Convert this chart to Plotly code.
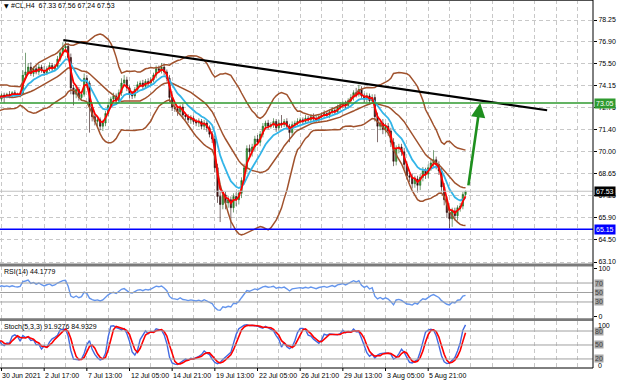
import numpy as np
import pandas as pd
import plotly.graph_objects as go

# ---------------- data ----------------
symbol_title = "#CL,H4  67.33 67.56 67.24 67.53"
rsi_title = "RSI(14) 44.1779"
stoch_title = "Stoch(5,3,3) 91.9276 84.9329"

first_open = 72.9
warmup_close = [72.8, 73.1, 73.6, 74.0, 73.8, 73.3, 72.9, 72.7, 73.0, 73.4,
                73.9, 74.1, 73.7, 73.2, 72.9, 73.1, 73.5, 73.8, 73.4, 73.3]
warmup_upper_wick = [0.15, 0.2, 0.15, 0.2, 0.15, 0.2, 0.15, 0.2, 0.15, 0.2,
                     0.15, 0.2, 0.15, 0.2, 0.15, 0.2, 0.15, 0.2, 0.15, 0.2]
warmup_lower_wick = [0.2, 0.15, 0.2, 0.15, 0.2, 0.15, 0.2, 0.15, 0.2, 0.15,
                     0.2, 0.15, 0.2, 0.15, 0.2, 0.15, 0.2, 0.15, 0.2, 0.15]

close_vals = [
    73.55, 73.45, 73.6, 73.5, 73.7, 73.6, 73.55, 73.65, 74.8, 75.0,
    75.3, 74.9, 75.2, 75.0, 75.3, 75.1, 74.95, 75.2, 75.4, 75.2,
    75.35, 75.8, 76.2, 76.5, 76.6, 75.9, 74.0, 73.6, 73.9, 73.4,
    73.6, 74.6, 74.3, 72.8, 72.2, 71.9, 72.0, 71.6, 71.8, 72.4,
    72.9, 73.3, 73.5, 73.2, 73.7, 74.3, 74.5, 74.0, 73.6, 73.5,
    73.9, 74.2, 74.3, 74.1, 74.4, 74.3, 74.5, 74.8, 75.2, 75.1,
    75.3, 75.0, 74.6, 73.4, 72.8, 72.7, 72.5, 72.8, 72.3, 72.2,
    72.0, 72.1, 71.9, 71.8, 71.9, 71.6, 71.8, 71.5, 71.1, 70.8,
    69.0, 67.2, 66.7, 67.3, 66.8, 67.0, 66.5, 67.2, 67.0, 67.4,
    68.2, 69.0, 70.2, 70.0, 70.3, 70.8, 70.6, 71.1, 71.6, 71.8,
    71.6, 71.7, 71.9, 71.5, 71.8, 71.7, 71.9, 71.6, 71.2, 71.7,
    71.8, 71.9, 72.0, 71.9, 72.1, 72.0, 72.2, 72.1, 72.0, 72.2,
    72.3, 72.4, 72.3, 72.5, 72.6, 72.5, 72.8, 72.9, 73.0, 72.9,
    73.2, 73.4, 73.7, 73.6, 73.9, 73.5, 73.3, 73.5, 73.2, 73.4,
    72.2, 71.6, 71.8, 71.4, 71.6, 71.3, 70.6, 69.4, 70.2, 70.3,
    70.0, 69.2, 68.5, 68.4, 68.0, 68.3, 67.9, 68.4, 68.8, 68.6,
    69.0, 69.3, 69.5, 69.2, 68.8, 67.8, 67.0, 66.2, 65.8, 66.3,
    66.0, 66.5, 66.6, 67.33, 67.53,
]
upper_wick = [
    0.10, 0.15, 0.10, 0.20, 0.10, 0.15, 0.10, 0.12, 0.30, 1.20,
    0.25, 0.30, 0.15, 0.20, 0.20, 0.15, 0.25, 0.15, 0.20, 0.15,
    0.15, 0.20, 0.15, 0.35, 0.30, 0.20, 0.25, 0.20, 0.25, 0.15,
    0.20, 0.30, 0.20, 0.15, 0.20, 0.15, 0.20, 0.15, 0.20, 0.15,
    0.20, 0.15, 0.20, 0.15, 0.20, 0.30, 0.30, 0.20, 0.15, 0.20,
    0.15, 0.20, 0.15, 0.20, 0.15, 0.20, 0.15, 0.15, 0.20, 0.20,
    0.25, 0.20, 0.15, 0.20, 0.15, 0.20, 0.15, 0.15, 0.20, 0.15,
    0.15, 0.20, 0.15, 0.15, 0.20, 0.15, 0.20, 0.15, 0.15, 0.20,
    0.20, 0.25, 0.30, 0.25, 0.20, 0.25, 0.20, 0.20, 0.25, 0.20,
    0.20, 0.25, 0.20, 0.25, 0.20, 0.20, 0.25, 0.20, 0.20, 0.15,
    0.20, 0.15, 0.20, 0.15, 0.20, 0.50, 0.15, 0.20, 0.15, 0.20,
    0.15, 0.20, 0.15, 0.15, 0.20, 0.15, 0.15, 0.20, 0.15, 0.15,
    0.15, 0.20, 0.15, 0.15, 0.20, 0.15, 0.15, 0.20, 0.15, 0.20,
    0.15, 0.20, 0.15, 0.30, 0.30, 0.20, 0.15, 0.20, 0.15, 0.20,
    0.20, 0.25, 0.20, 0.25, 0.20, 0.20, 0.20, 0.25, 0.20, 0.20,
    0.20, 0.25, 0.20, 0.20, 0.25, 0.20, 0.20, 0.20, 0.25, 0.20,
    0.20, 0.20, 0.60, 0.20, 0.20, 0.20, 0.25, 0.20, 0.20, 0.20,
    0.20, 0.15, 0.20, 0.15, 0.03,
]
lower_wick = [
    0.15, 0.40, 0.10, 0.15, 0.10, 0.15, 0.10, 0.15, 0.10, 0.20,
    0.20, 0.15, 0.20, 0.15, 0.20, 0.15, 0.20, 0.15, 0.15, 0.20,
    0.15, 0.10, 0.15, 0.20, 0.20, 0.20, 0.40, 0.70, 0.25, 0.20,
    0.20, 0.15, 0.20, 1.60, 0.30, 0.25, 0.30, 0.25, 0.30, 0.20,
    0.20, 0.15, 0.20, 0.25, 0.15, 0.20, 0.15, 0.20, 0.25, 0.20,
    0.15, 0.20, 0.15, 0.20, 0.15, 0.20, 0.15, 0.15, 0.20, 0.15,
    0.20, 0.20, 0.20, 0.30, 0.25, 0.20, 0.25, 0.20, 0.25, 0.20,
    0.20, 0.25, 0.20, 0.20, 0.25, 0.20, 0.20, 0.25, 0.20, 0.25,
    0.30, 0.40, 1.10, 0.30, 0.40, 0.30, 1.30, 0.30, 0.40, 0.30,
    0.30, 0.25, 0.30, 0.25, 0.30, 0.25, 0.20, 0.25, 0.20, 0.20,
    0.20, 0.15, 0.20, 0.25, 0.20, 0.20, 0.15, 0.20, 0.60, 0.20,
    0.20, 0.15, 0.20, 0.20, 0.15, 0.20, 0.15, 0.20, 0.15, 0.20,
    0.15, 0.20, 0.15, 0.20, 0.15, 0.20, 0.15, 0.20, 0.15, 0.20,
    0.20, 0.15, 0.20, 0.20, 0.15, 0.20, 0.25, 0.20, 0.20, 0.20,
    0.30, 1.00, 0.25, 0.30, 0.25, 0.30, 0.30, 0.30, 0.25, 0.30,
    0.25, 0.30, 0.25, 0.30, 0.30, 0.25, 0.45, 0.30, 0.25, 0.30,
    0.25, 0.20, 0.25, 0.30, 0.25, 0.30, 0.35, 0.35, 0.60, 0.50,
    0.30, 0.30, 0.25, 0.20, 0.09,
]

date_bars = [0, 16, 32, 48, 64, 80, 96, 112, 128, 144, 160]
date_labels = ["30 Jun 2021", "2 Jul 17:00", "7 Jul 13:00", "12 Jul 05:00",
               "14 Jul 21:00", "19 Jul 13:00", "22 Jul 05:00", "26 Jul 21:00",
               "29 Jul 13:00", "3 Aug 05:00", "5 Aug 21:00"]
price_ticks = [78.25, 76.90, 75.50, 74.15, 72.75, 71.40, 70.00, 68.65,
               67.25, 65.90, 64.50, 63.10]
resistance_level = 73.05
support_level = 65.15
bid_level = 67.53
trend_x = [23.2, 204.6]
trend_y = [77.0, 72.6]
arrow_tail = [175.0, 67.8]
arrow_tip = [179.5, 73.05]
rsi_levels = [70, 50, 30]
stoch_levels = [80, 50, 20]

# ---------------- derived ----------------
n_warm = len(warmup_close)
closes = np.array(warmup_close + close_vals, dtype=float)
uw = np.array(warmup_upper_wick + upper_wick, dtype=float)
lw = np.array(warmup_lower_wick + lower_wick, dtype=float)
opens = np.concatenate([[first_open], closes[:-1]])
highs = np.maximum(opens, closes) + uw
lows = np.minimum(opens, closes) - lw
bars = np.arange(-n_warm, len(close_vals))

s = pd.Series(closes)
bb_mid = s.rolling(20).mean()
bb_sd = s.rolling(20).std(ddof=0)
bb_up = bb_mid + 2 * bb_sd
bb_lo = bb_mid - 2 * bb_sd
ma_fast = s.ewm(span=3, adjust=False).mean()
ma_slow = s.ewm(span=10, adjust=False).mean()

delta = s.diff()
gain = delta.clip(lower=0).ewm(alpha=1 / 14, adjust=False).mean()
loss = (-delta.clip(upper=0)).ewm(alpha=1 / 14, adjust=False).mean()
rsi = 100 - 100 / (1 + gain / loss)

hh = pd.Series(highs).rolling(5).max()
ll = pd.Series(lows).rolling(5).min()
k_num = (s - ll).rolling(3).sum()
k_den = (hh - ll).rolling(3).sum()
stoch_k = 100 * k_num / k_den
stoch_d = stoch_k.rolling(3).mean()

# ---------------- figure ----------------
H_PLOT = 368.0
def py(px):
    return 1 - px / H_PLOT

FONT = "Liberation Sans, Arial, sans-serif"
BROWN = "#a0522d"

fig = go.Figure()
fig.add_trace(go.Candlestick(
    x=bars, open=opens, high=highs, low=lows, close=closes,
    increasing=dict(line=dict(color="#1f5f1f", width=0.6), fillcolor="#2fa82f"),
    decreasing=dict(line=dict(color="#2b0d0d", width=0.6), fillcolor="#4a1212"),
    whiskerwidth=0, xaxis="x", yaxis="y", showlegend=False, hoverinfo="skip"))
for band in (bb_up, bb_mid, bb_lo):
    fig.add_trace(go.Scatter(x=bars, y=band, mode="lines",
                             line=dict(color=BROWN, width=1.5),
                             xaxis="x", yaxis="y", hoverinfo="skip"))
fig.add_trace(go.Scatter(x=bars, y=ma_slow, mode="lines",
                         line=dict(color="#33b5e8", width=1.8),
                         xaxis="x", yaxis="y", hoverinfo="skip"))
fig.add_trace(go.Scatter(x=bars, y=ma_fast, mode="lines",
                         line=dict(color="#ff0000", width=1.8),
                         xaxis="x", yaxis="y", hoverinfo="skip"))
fig.add_trace(go.Scatter(x=trend_x, y=trend_y, mode="lines",
                         line=dict(color="#000000", width=2.2),
                         xaxis="x", yaxis="y", hoverinfo="skip"))

fig.add_trace(go.Scatter(x=bars, y=rsi, mode="lines",
                         line=dict(color="#6495ed", width=1.4),
                         xaxis="x2", yaxis="y2", hoverinfo="skip"))
fig.add_trace(go.Scatter(x=bars, y=stoch_k, mode="lines",
                         line=dict(color="#4169e1", width=1.4),
                         xaxis="x3", yaxis="y3", hoverinfo="skip"))
fig.add_trace(go.Scatter(x=bars, y=stoch_d, mode="lines",
                         line=dict(color="#ff0000", width=1.6),
                         xaxis="x3", yaxis="y3", hoverinfo="skip"))

GRID = dict(showgrid=True, gridcolor="#c8c8c8", griddash="4px,3px", gridwidth=1)
xcommon = dict(range=[-0.56, 221.8], dtick=8, tick0=0, tickmode="linear",
               showticklabels=False, ticks="", zeroline=False, showline=False,
               fixedrange=True, **GRID)

shapes = []
annotations = []

shapes.append(dict(type="line", xref="paper", x0=0, x1=1, yref="y",
                   y0=bid_level, y1=bid_level, line=dict(color="#c0c0c0", width=1)))
shapes.append(dict(type="line", xref="paper", x0=0, x1=1, yref="y",
                   y0=resistance_level, y1=resistance_level,
                   line=dict(color="#2f9a2f", width=1.6)))
shapes.append(dict(type="line", xref="paper", x0=0, x1=1, yref="y",
                   y0=support_level, y1=support_level,
                   line=dict(color="#0000ff", width=1.6)))
for lv in rsi_levels:
    shapes.append(dict(type="line", xref="paper", x0=0, x1=1, yref="y2",
                       y0=lv, y1=lv, line=dict(color="#a0a0a0", width=1)))
for lv in stoch_levels:
    shapes.append(dict(type="line", xref="paper", x0=0, x1=1, yref="y3",
                       y0=lv, y1=lv, line=dict(color="#a0a0a0", width=1)))
shapes.append(dict(type="rect", xref="paper", x0=0, x1=1, yref="paper",
                   y0=py(266.5), y1=py(263.5), fillcolor="#7a7a7a", line=dict(width=0)))
shapes.append(dict(type="rect", xref="paper", x0=0, x1=1, yref="paper",
                   y0=py(321), y1=py(318.2), fillcolor="#7a7a7a", line=dict(width=0)))
shapes.append(dict(type="line", xref="paper", x0=0, x1=1, yref="paper",
                   y0=py(0.5), y1=py(0.5), line=dict(color="#505050", width=1)))
shapes.append(dict(type="line", xref="paper", x0=1, x1=1, yref="paper",
                   y0=0, y1=1, line=dict(color="#000000", width=1)))
shapes.append(dict(type="line", xref="paper", x0=0, x1=1, yref="paper",
                   y0=0, y1=0, line=dict(color="#000000", width=1)))
for b in date_bars:
    shapes.append(dict(type="line", xref="x3", x0=b, x1=b, yref="paper",
                       y0=0, y1=-3 / H_PLOT, line=dict(color="#000000", width=1)))

for b, t in zip(date_bars, date_labels):
    annotations.append(dict(x=b, xref="x3", y=0, yref="paper", text=t,
                            showarrow=False, xanchor="left", yanchor="top",
                            xshift=-1, yshift=-2,
                            font=dict(family=FONT, size=7, color="#000000")))

for lv, bg in ((resistance_level, "#2f9a2f"), (bid_level, "#000000"),
               (support_level, "#0000ff")):
    annotations.append(dict(x=1, xref="paper", y=lv, yref="y", text=f"{lv:.2f}",
                            showarrow=False, xanchor="left", yanchor="middle",
                            xshift=1, bgcolor=bg, borderpad=1,
                            font=dict(family=FONT, size=7, color="#ffffff")))
for lv in rsi_levels:
    annotations.append(dict(x=1, xref="paper", y=lv, yref="y2", text=str(lv),
                            showarrow=False, xanchor="left", yanchor="middle",
                            xshift=1, bgcolor="#a8a8a8", borderpad=0,
                            font=dict(family=FONT, size=7, color="#404040")))
for lv in stoch_levels:
    annotations.append(dict(x=1, xref="paper", y=lv, yref="y3", text=str(lv),
                            showarrow=False, xanchor="left", yanchor="middle",
                            xshift=1, bgcolor="#a8a8a8", borderpad=0,
                            font=dict(family=FONT, size=7, color="#404040")))
for txt, ypx in (("100", 325), ("0", 365)):
    annotations.append(dict(x=1, xref="paper", y=py(ypx), yref="paper", text=txt,
                            showarrow=False, xanchor="left", yanchor="middle",
                            xshift=3, font=dict(family=FONT, size=7, color="#000000")))

annotations.append(dict(x=0, xref="paper", y=py(5.5), yref="paper", text="▼",
                        showarrow=False, xanchor="left", yanchor="middle", xshift=2,
                        font=dict(family="DejaVu Sans", size=6, color="#000000")))
annotations.append(dict(x=0, xref="paper", y=py(5.5), yref="paper", text=symbol_title,
                        showarrow=False, xanchor="left", yanchor="middle", xshift=9,
                        font=dict(family=FONT, size=7, color="#000000")))
annotations.append(dict(x=0, xref="paper", y=py(272), yref="paper", text=rsi_title,
                        showarrow=False, xanchor="left", yanchor="middle", xshift=2,
                        font=dict(family=FONT, size=7, color="#000000")))
annotations.append(dict(x=0, xref="paper", y=py(327), yref="paper", text=stoch_title,
                        showarrow=False, xanchor="left", yanchor="middle", xshift=2,
                        font=dict(family=FONT, size=7, color="#000000")))

annotations.append(dict(x=arrow_tip[0], y=arrow_tip[1], xref="x", yref="y",
                        ax=arrow_tail[0], ay=arrow_tail[1], axref="x", ayref="y",
                        text="", showarrow=True, arrowhead=2, arrowsize=1.1,
                        arrowwidth=2.6, arrowcolor="#1e8f1e"))

fig.update_layout(
    width=620, height=383,
    margin=dict(l=0, r=27, t=0, b=15),
    paper_bgcolor="#ffffff", plot_bgcolor="#ffffff",
    showlegend=False,
    font=dict(family=FONT, size=7, color="#000000"),
    xaxis=dict(anchor="y", rangeslider=dict(visible=False), **xcommon),
    xaxis2=dict(anchor="y2", matches="x", **xcommon),
    xaxis3=dict(anchor="y3", matches="x", **xcommon),
    yaxis=dict(domain=[py(264), 1], range=[62.975, 79.502], side="right",
               tickmode="array", tickvals=price_ticks,
               ticktext=[f"{v:.2f}" for v in price_ticks],
               ticks="outside", ticklen=3, tickcolor="#000000",
               tickfont=dict(family=FONT, size=7, color="#000000"),
               zeroline=False, showline=False, fixedrange=True, **GRID),
    yaxis2=dict(domain=[py(318.5), py(266)], range=[-4.85, 105.9], side="right",
                tickmode="array", tickvals=[0, 100], ticktext=["0", "100"],
                ticks="outside", ticklen=3, tickcolor="#000000",
                tickfont=dict(family=FONT, size=7, color="#000000"),
                showgrid=False, zeroline=False, showline=False, fixedrange=True),
    yaxis3=dict(domain=[0, py(321)], range=[0.6, 101.5], side="right",
                showticklabels=False, ticks="", showgrid=False, zeroline=False,
                showline=False, fixedrange=True),
    shapes=shapes,
    annotations=annotations,
)

fig.write_html("out.html", config={"displayModeBar": False},
               post_script="document.body.style.margin='0';document.body.style.overflow='hidden';")
